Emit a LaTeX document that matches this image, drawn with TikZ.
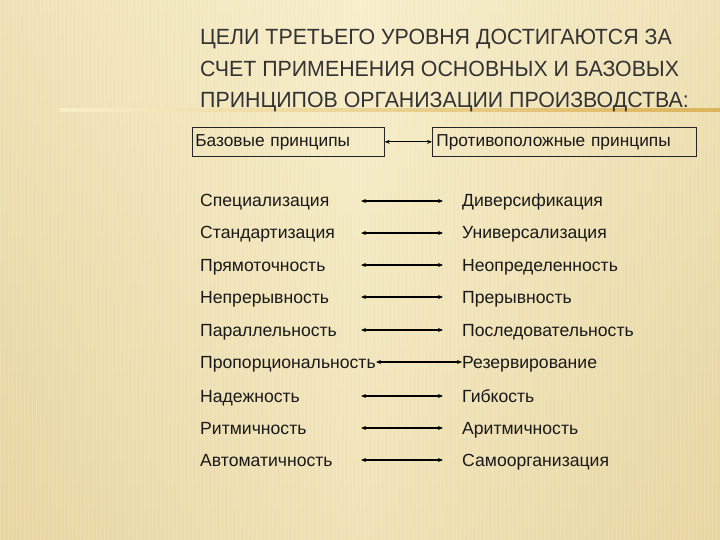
\documentclass[tikz,border=0pt]{standalone}
\usepackage{fontspec}
\setmainfont{Liberation Sans}
\newfontfamily\narrowf[FakeStretch=0.97]{Liberation Sans}
\usetikzlibrary{arrows.meta}
\definecolor{bgA}{RGB}{232,214,160}
\definecolor{bgB}{RGB}{248,238,200}
\definecolor{goldl}{RGB}{220,180,90}
\begin{document}
\begin{tikzpicture}[x=1pt,y=-1pt,
  lbl/.style={anchor=base west,inner sep=0pt,font=\fontsize{17.6}{21}\selectfont,text=black!90},
  hdr/.style={draw=black!85,line width=0.7pt,anchor=north west,minimum height=29pt,inner sep=0pt,font=\fontsize{17.3}{21}\selectfont,text=black!90},
  ttl/.style={anchor=base west,inner sep=0pt,font=\narrowf\fontsize{22}{25}\selectfont,text=black!80},
  arr/.style={{Stealth[length=5pt,width=4pt]}-{Stealth[length=5pt,width=4pt]},line width=1.1pt}]
\useasboundingbox (0,0) rectangle (720,540);
\shade[top color=bgB,bottom color=bgA] (0,0) rectangle (720,540);
\shade[left color=bgA,right color=bgA,middle color=bgB,opacity=0.5] (0,0) rectangle (720,540);
\foreach \i in {0,4,...,716} \draw[white,opacity=0.15,line width=1pt] (\i,0) -- (\i,540);
\shade[left color=bgB,right color=goldl] (60,109) rectangle (720,112);
\node[ttl] (t1) at (200,45) {ЦЕЛИ ТРЕТЬЕГО УРОВНЯ ДОСТИГАЮТСЯ ЗА};
\node[ttl] (t2) at (200,77) {СЧЕТ ПРИМЕНЕНИЯ ОСНОВНЫХ И БАЗОВЫХ};
\node[ttl] (t3) at (200,108) {ПРИНЦИПОВ ОРГАНИЗАЦИИ ПРОИЗВОДСТВА:};
\node[hdr,minimum width=192pt,text width=186pt,align=left] (h1) at (192,127) {Базовые принципы};
\node[hdr,minimum width=264pt,text width=256pt,align=left] (h2) at (432,127) {Противоположные принципы};
\draw[arr] (h1.east) -- (h2.west);
\foreach \y/\a/\b/\n in {207/Специализация/Диверсификация/1,
 239/Стандартизация/Универсализация/2,
 271/Прямоточность/Неопределенность/3,
 303/Непрерывность/Прерывность/4,
 336/Параллельность/Последовательность/5,
 368/Пропорциональность/Резервирование/6,
 402/Надежность/Гибкость/7,
 434/Ритмичность/Аритмичность/8,
 466/Автоматичность/Самоорганизация/9}{
  \node[lbl] (l\n) at (200,\y) {\a};
  \node[lbl] (r\n) at (462,\y) {\b};
  \coordinate (al\n) at (361,\y-6);
  \coordinate (ar\n) at (443,\y-6);
}
\foreach \n in {1,2,3,4,5,7,8,9} \draw[arr] (al\n) -- (ar\n);
\draw[arr] (l6.base east) ++(0,-6) coordinate (p6) (p6) -- (r6.base west |- p6);
\end{tikzpicture}
\end{document}
